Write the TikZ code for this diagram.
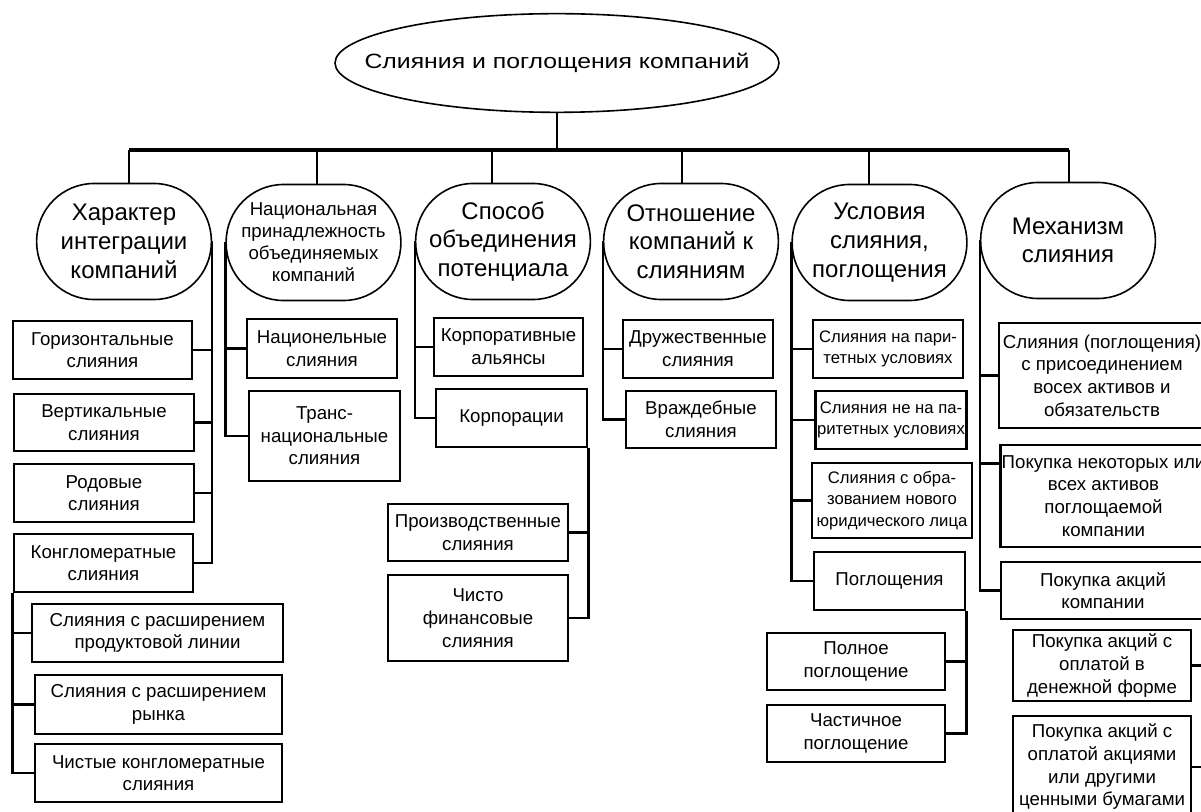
\documentclass[tikz,border=0pt]{standalone}
\usepackage{fontspec}
\setmainfont{Liberation Sans}
\newfontfamily\rootfont[FakeStretch=1.2]{Liberation Sans}
\usetikzlibrary{shapes.geometric}

\begin{document}
\begin{tikzpicture}[x=0.75pt,y=-0.75pt,
	link/.style={line width=2pt},
	bus/.style={line width=3pt},
	elbow/.style={to path={|- (\tikztotarget)}},
	topnode/.style={ellipse,draw,line width=1.2pt,inner sep=0pt,minimum width=333pt,minimum height=74pt,font={\rootfont\fontsize{15.5}{18}\selectfont}},
	cat/.style={rectangle,draw,rounded corners=43pt,line width=1.2pt,minimum width=131pt,minimum height=87pt,align=center,inner sep=1pt,font=\fontsize{18}{21.5}\selectfont},
	box/.style={rectangle,draw,line width=2.2pt,align=center,inner sep=1pt,font=\fontsize{14}{17}\selectfont},
	smallfont/.style={font=\fontsize{12.5}{16}\selectfont},
	sz/.style 2 args={minimum width=#1*0.75pt,minimum height=#2*0.75pt}]
	\useasboundingbox (0,0) rectangle (1201,812);
	\clip (0,0) rectangle (1201,812);

	\node[topnode] (root) at (557,63) {\makebox[0pt]{Слияния и поглощения компаний}};

	\node[cat] (c_1) at (124,241.5) {Характер\\интеграции\\компаний};
	\node[cat,font=\fontsize{14}{16.5}\selectfont] (c_2) at (313.5,242.5) {Национальная\\принадлежность\\объединяемых\\компаний};
	\node[cat] (c_3) at (503,241.5) {Способ\\объединения\\потенциала};
	\node[cat] (c_4) at (691,241.5) {Отношение\\компаний к\\слияниям};
	\node[cat] (c_5) at (879.5,242.5) {Условия\\слияния,\\поглощения};
	\node[cat] (c_6) at (1068,240.5) {Механизм\\слияния};

	\node[box,sz={179}{58}] (h_1) at (102.5,350) {Горизонтальные\\слияния};
	\node[box,sz={180}{57}] (h_2) at (104,422.5) {Вертикальные\\слияния};
	\node[box,sz={180}{58}] (h_3) at (104,493) {Родовые\\слияния};
	\node[box,sz={179}{58}] (h_4) at (103.5,563) {Конгломератные\\слияния};
	\node[box,sz={251}{58}] (k_1) at (157.5,633) {Слияния с расширением\\продуктовой линии};
	\node[box,sz={247}{59}] (k_2) at (158.5,704.5) {Слияния с расширением\\рынка};
	\node[box,sz={247}{58}] (k_3) at (158.5,773) {Чистые конгломератные\\слияния};

	\node[box,sz={150}{59}] (n_1) at (322,348.5) {Национельные\\слияния};
	\node[box,sz={151}{90}] (n_2) at (324.5,436) {Транс-\\национальные\\слияния};

	\node[box,sz={149}{58}] (s_1) at (508.5,347) {Корпоративные\\альянсы};
	\node[box,sz={151}{58}] (s_2) at (511.5,418) {Корпорации};
	\node[box,sz={180}{57}] (s_3) at (478,532.5) {Производственные\\слияния};
	\node[box,sz={180}{86}] (s_4) at (478,618) {Чисто\\финансовые\\слияния};

	\node[box,sz={150}{58}] (o_1) at (698,349) {Дружественные\\слияния};
	\node[box,sz={150}{57}] (o_2) at (701,419.5) {Враждебные\\слияния};

	\node[box,smallfont,sz={150}{58}] (u_1) at (888,349) {Слияния на пари-\\тетных условиях};
	\node[box,smallfont,sz={150}{58}] (u_2) at (891,420) {Слияния не на па-\\ритетных условиях};
	\node[box,smallfont,sz={160}{75}] (u_3) at (892,500.5) {Слияния с обра-\\зованием нового\\юридического лица};
	\node[box,sz={151}{58}] (u_4) at (889.5,581) {Поглощения};
	\node[box,sz={178}{57}] (u_5) at (856,661.5) {Полное\\поглощение};
	\node[box,sz={178}{57}] (u_6) at (856,733.5) {Частичное\\поглощение};

	\node[box,sz={206}{105}] (m_1) at (1102,375.5) {Слияния (поглощения)\\с присоединением\\восех активов и\\обязательств};
	\node[box,sz={203}{102}] (m_2) at (1103.5,496) {Покупка некоторых или\\всех активов\\поглощаемой\\компании};
	\node[box,sz={204}{57}] (m_3) at (1103,590.5) {Покупка акций\\компании};
	\node[box,sz={178}{71}] (m_4) at (1102,665.5) {Покупка акций с\\оплатой в\\денежной форме};
	\node[box,sz={178}{102}] (m_5) at (1102,767) {Покупка акций с\\оплатой акциями\\или другими\\ценными бумагами};

	% bus under the root
	\coordinate (bar) at (557,150);
	\coordinate (t_1) at (129,150);
	\coordinate (t_2) at (317,150);
	\coordinate (t_3) at (492,150);
	\coordinate (t_4) at (682,150);
	\coordinate (t_5) at (869,150);
	\coordinate (t_6) at (1069,150);
	\coordinate (m_2l) at ([yshift=-15pt]m_2.north west);
	\draw[bus] (t_1) -- (t_6);
	\path[link]
	(root) edge (bar)
	(t_1) edge (t_1 |- c_1.north)
	(t_2) edge (t_2 |- c_2.north)
	(t_3) edge (t_3 |- c_3.north)
	(t_4) edge (t_4 |- c_4.north)
	(t_5) edge (t_5 |- c_5.north)
	(t_6) edge (t_6 |- c_6.north);

	% spines of the groups
	\path[link]
	(c_1.east) edge[elbow] (h_4.east)
	(h_1.east) edge (h_1.east -| c_1.east)
	(h_2.east) edge (h_2.east -| c_1.east)
	(h_3.east) edge (h_3.east -| c_1.east)
	(h_4.south west) edge[elbow] (k_3.west)
	(k_1.west) edge (k_1.west -| h_4.south west)
	(k_2.west) edge (k_2.west -| h_4.south west)
	(c_2.west) edge[elbow] (n_2.west)
	(n_1.west) edge (n_1.west -| c_2.west)
	(c_3.west) edge[elbow] (s_2.west)
	(s_1.west) edge (s_1.west -| c_3.west)
	(s_2.south east) edge[elbow] (s_4.east)
	(s_3.east) edge (s_3.east -| s_2.south east)
	(c_4.west) edge[elbow] (o_2.west)
	(o_1.west) edge (o_1.west -| c_4.west)
	(c_5.west) edge[elbow] (u_4.west)
	(u_1.west) edge (u_1.west -| c_5.west)
	(u_2.west) edge (u_2.west -| c_5.west)
	(u_3.west) edge (u_3.west -| c_5.west)
	(u_4.south east) edge[elbow] (u_6.east)
	(u_5.east) edge (u_5.east -| u_4.south east)
	(c_6.west) edge[elbow] (m_3.west)
	(m_1.west) edge (m_1.west -| c_6.west)
	(m_2l) edge (m_2l -| c_6.west)
	(m_3.south east) edge[elbow] (m_5.east)
	(m_4.east) edge (m_4.east -| m_3.south east);
\end{tikzpicture}
\end{document}
